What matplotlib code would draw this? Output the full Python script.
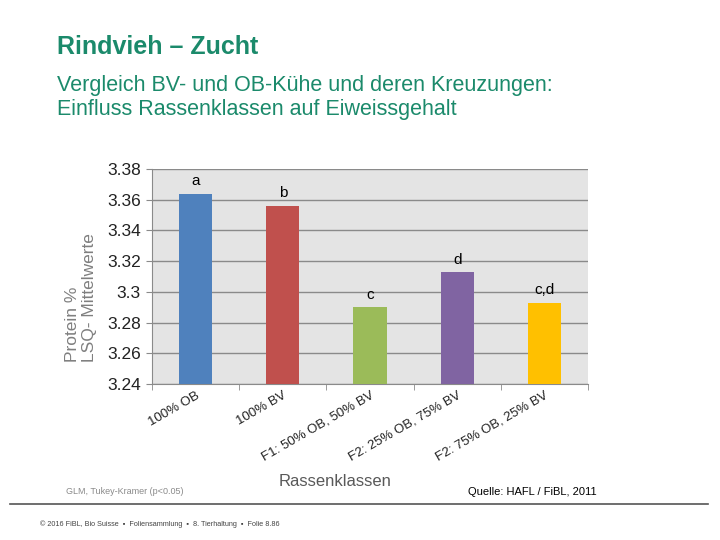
import matplotlib.pyplot as plt
import numpy as np

plt.rcParams['font.family'] = ['Liberation Sans', 'DejaVu Sans']

categories = ["100% OB", "100% BV", "F1: 50% OB, 50% BV",
              "F2: 25% OB, 75% BV", "F2: 75% OB, 25% BV"]
values = [3.364, 3.356, 3.290, 3.313, 3.293]
letters = ["a", "b", "c", "d", "c,d"]
colors = ["#4f81bd", "#c0504d", "#9bbb59", "#8064a2", "#ffc000"]
yticks = [3.24, 3.26, 3.28, 3.30, 3.32, 3.34, 3.36, 3.38]
ytick_labels = ["3.24", "3.26", "3.28", "3.3", "3.32", "3.34", "3.36", "3.38"]

teal = "#1b8a6b"

fig = plt.figure(figsize=(7.2, 5.4), dpi=100)
fig.patch.set_facecolor("white")

fig.text(57 / 720, 1 - 47 / 540, "Rindvieh – Zucht", fontsize=18,
         fontweight="bold", color=teal, va="center", ha="left")
fig.text(57 / 720, 1 - 86 / 540, "Vergleich BV- und OB-Kühe und deren Kreuzungen:",
         fontsize=15.5, color=teal, va="center", ha="left")
fig.text(57 / 720, 1 - 110 / 540, "Einfluss Rassenklassen auf Eiweissgehalt",
         fontsize=15.5, color=teal, va="center", ha="left")

ax = fig.add_axes([152 / 720, 1 - 384 / 540, (588 - 152) / 720, (384 - 169) / 540])
ax.set_facecolor("#e4e4e4")

x = np.arange(len(categories))
ax.bar(x, values, width=0.38, color=colors, zorder=3)
for xi, v, lab in zip(x, values, letters):
    ax.text(xi, v + 0.0035, lab, ha="center", va="bottom", fontsize=11,
            color="black", zorder=4)

ax.set_ylim(3.24, 3.38)
ax.set_xlim(-0.5, len(categories) - 0.5)
ax.set_yticks(yticks)
ax.set_yticklabels(ytick_labels, fontsize=12.5, color="#222222")
ax.yaxis.grid(True, color="#8a8a8a", linewidth=1.0, zorder=1)
ax.set_axisbelow(True)

ax.set_xticks(x)
ax.set_xticklabels(categories, rotation=30, ha="right", rotation_mode="anchor",
                   fontsize=9.5, color="#222222")
ax.tick_params(axis="x", which="major", length=0, pad=4)
ax.set_xticks(np.arange(len(categories) + 1) - 0.5, minor=True)
ax.tick_params(axis="x", which="minor", length=4, color="#8a8a8a")
ax.tick_params(axis="y", length=4, color="#8a8a8a", pad=4)

for s in ["top", "right"]:
    ax.spines[s].set_visible(False)
for s in ["left", "bottom"]:
    ax.spines[s].set_color("#8a8a8a")

# y label: two lines, left-aligned (bottom-aligned after rotation)
fig.text(81 / 720, 1 - 362 / 540, "Protein %\nLSQ- Mittelwerte", fontsize=12.5,
         color="#7f7f7f", rotation=90, ha="center", va="bottom",
         multialignment="left", linespacing=1.15)
fig.text(335 / 720, 1 - 481 / 540, "Rassenklassen", fontsize=12,
         color="#595959", ha="center", va="center")

fig.text(66 / 720, 1 - 492 / 540, "GLM, Tukey-Kramer (p<0.05)", fontsize=6.5,
         color="#8a8a8a", ha="left", va="center")
fig.text(597 / 720, 1 - 492 / 540, "Quelle: HAFL / FiBL, 2011", fontsize=8,
         color="black", ha="right", va="center")

fig.add_artist(plt.Line2D([10 / 720, 708 / 720], [1 - 504 / 540, 1 - 504 / 540],
                          color="#555555", linewidth=1.2))
fig.text(40 / 720, 1 - 524 / 540,
         "© 2016 FiBL, Bio Suisse  ▪  Foliensammlung  ▪  8. Tierhaltung  ▪  Folie 8.86",
         fontsize=5.2, color="#444444", ha="left", va="center")

fig.savefig("out.png", dpi=100)
